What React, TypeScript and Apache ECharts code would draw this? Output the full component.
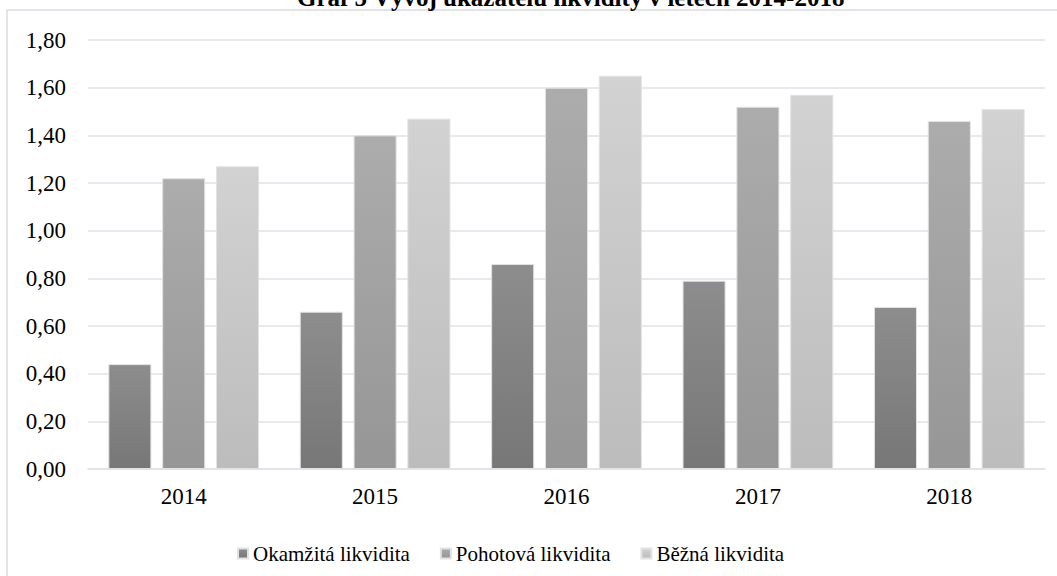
import React, { useEffect, useRef } from "react";
import * as echarts from "echarts";

const years = ["2014", "2015", "2016", "2017", "2018"];
const okamzita = [0.44, 0.66, 0.86, 0.79, 0.68];
const pohotova = [1.22, 1.40, 1.60, 1.52, 1.46];
const bezna = [1.27, 1.47, 1.65, 1.57, 1.51];
const seriesNames = ["Okamžitá likvidita", "Pohotová likvidita", "Běžná likvidita"];
const titleText = "Graf 5 Vývoj ukazatelů likvidity v letech 2014-2018";

const FONT = "'Liberation Serif', 'Times New Roman', serif";

function grad(top: string, bottom: string) {
  return new echarts.graphic.LinearGradient(0, 0, 0, 1, [
    { offset: 0, color: top },
    { offset: 1, color: bottom },
  ]);
}

export default function App() {
  const ref = useRef<HTMLDivElement>(null);
  useEffect(() => {
    if (!ref.current) return;
    const chart = echarts.init(ref.current, null, { renderer: "svg" });
    const colors = [
      grad("#8d8d8d", "#777777"),
      grad("#acacac", "#969696"),
      grad("#d2d2d2", "#bcbcbc"),
    ];
    const data = [okamzita, pohotova, bezna];
    chart.setOption({
      animation: false,
      backgroundColor: "#ffffff",
      graphic: [
        {
          type: "rect",
          shape: { x: 7, y: 10, width: 1100, height: 620 },
          style: { fill: "none", stroke: "#d9dce3", lineWidth: 1.5 },
          silent: true,
        },
        {
          type: "text",
          x: 297,
          y: 10,
          style: {
            text: titleText,
            font: `bold 25px ${FONT}`,
            fill: "#000000",
            align: "left",
            verticalAlign: "bottom",
          },
        },
      ],
      legend: {
        data: seriesNames,
        top: 538,
        left: 232,
        icon: "rect",
        itemWidth: 10,
        itemHeight: 10,
        itemGap: 30,
        textStyle: { fontFamily: FONT, fontSize: 21, color: "#000000" },
      },
      grid: { left: 88, right: 12, top: 40, bottom: 107 },
      xAxis: {
        type: "category",
        data: years,
        axisLine: { show: true, lineStyle: { color: "#dfe2e8", width: 1.5 } },
        axisTick: { show: false },
        axisLabel: { fontFamily: FONT, fontSize: 23, color: "#000000", margin: 16 },
      },
      yAxis: {
        type: "value",
        min: 0,
        max: 1.8,
        interval: 0.2,
        axisLine: { show: false },
        axisTick: { show: false },
        splitLine: { lineStyle: { color: "#dfe2e8", width: 1.5 } },
        axisLabel: {
          fontFamily: FONT,
          fontSize: 23,
          color: "#000000",
          margin: 22,
          formatter: (v: number) => v.toFixed(2).replace(".", ","),
        },
      },
      series: seriesNames.map((name, i) => ({
        name,
        type: "bar",
        data: data[i],
        barWidth: "22.5%",
        barGap: "25%",
        itemStyle: { color: colors[i], borderColor: "#e2e2e2", borderWidth: 1 },
      })),
    });
    return () => chart.dispose();
  }, []);
  return (
    <div
      ref={ref}
      style={{ position: "absolute", left: 0, top: 0, width: 1057, height: 576 }}
    />
  );
}
